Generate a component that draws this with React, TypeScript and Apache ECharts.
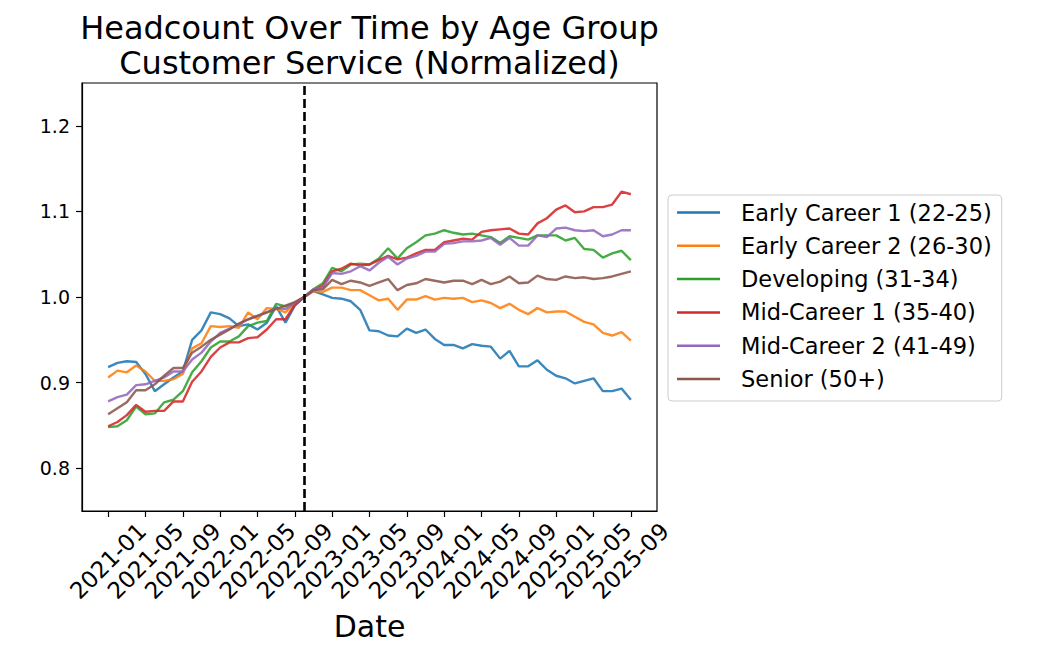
import React, { useEffect, useRef } from "react";
import * as echarts from "echarts";

// Monthly dates 2021-01 .. 2025-09
const months: string[] = (() => {
  const out: string[] = [];
  for (let y = 2021; y <= 2025; y++) {
    for (let m = 1; m <= 12; m++) {
      if (y === 2025 && m > 9) break;
      out.push(`${y}-${String(m).padStart(2, "0")}`);
    }
  }
  return out;
})();

const tickLabels = [
  "2021-01", "2021-05", "2021-09", "2022-01", "2022-05", "2022-09", "2023-01",
  "2023-05", "2023-09", "2024-01", "2024-05", "2024-09", "2025-01", "2025-05", "2025-09",
];
const yTicks = [0.8, 0.9, 1.0, 1.1, 1.2];
const normalizationMonth = "2022-10";

const seriesNames = [
  "Early Career 1 (22-25)",
  "Early Career 2 (26-30)",
  "Developing (31-34)",
  "Mid-Career 1 (35-40)",
  "Mid-Career 2 (41-49)",
  "Senior (50+)",
];

const earlyCareer1 = [
  0.918, 0.923, 0.925, 0.924, 0.910, 0.890, 0.898, 0.906, 0.913, 0.950,
  0.961, 0.982, 0.980, 0.975, 0.966, 0.968, 0.962, 0.970, 0.989, 0.970,
  0.990, 1.000, 1.007, 1.003, 0.999, 0.998, 0.995, 0.985, 0.961, 0.960,
  0.955, 0.954, 0.963, 0.958, 0.962, 0.951, 0.944, 0.944, 0.940, 0.945,
  0.943, 0.942, 0.928, 0.937, 0.919, 0.919, 0.926, 0.915, 0.908, 0.905,
  0.899, 0.902, 0.905, 0.890, 0.890, 0.893, 0.880,
];
const earlyCareer2 = [
  0.906, 0.914, 0.912, 0.920, 0.913, 0.902, 0.902, 0.904, 0.910, 0.940,
  0.946, 0.966, 0.965, 0.966, 0.964, 0.982, 0.974, 0.987, 0.986, 0.982,
  0.993, 1.000, 1.007, 1.006, 1.011, 1.011, 1.008, 1.008, 1.002, 0.996,
  0.998, 0.985, 0.997, 0.997, 1.001, 0.997, 0.999, 0.998, 0.999, 0.994,
  0.996, 0.993, 0.987, 0.992, 0.985, 0.980, 0.987, 0.982, 0.983, 0.983,
  0.977, 0.971, 0.968, 0.958, 0.955, 0.959, 0.949,
];
const developing = [
  0.848, 0.849, 0.856, 0.872, 0.863, 0.864, 0.877, 0.880, 0.890, 0.912,
  0.925, 0.941, 0.948, 0.948, 0.954, 0.966, 0.970, 0.972, 0.992, 0.989,
  0.993, 1.000, 1.009, 1.016, 1.034, 1.030, 1.038, 1.039, 1.038, 1.045,
  1.057, 1.045, 1.057, 1.064, 1.072, 1.074, 1.078, 1.075, 1.073, 1.074,
  1.072, 1.070, 1.063, 1.071, 1.069, 1.067, 1.072, 1.072, 1.072, 1.066,
  1.069, 1.056, 1.055, 1.046, 1.051, 1.054, 1.043,
];
const midCareer1 = [
  0.849, 0.854, 0.862, 0.874, 0.866, 0.867, 0.867, 0.878, 0.878, 0.901,
  0.913, 0.930, 0.941, 0.947, 0.947, 0.952, 0.953, 0.962, 0.974, 0.974,
  0.991, 1.000, 1.008, 1.013, 1.030, 1.033, 1.039, 1.037, 1.038, 1.043,
  1.048, 1.044, 1.046, 1.051, 1.055, 1.055, 1.064, 1.066, 1.068, 1.067,
  1.076, 1.078, 1.079, 1.080, 1.074, 1.073, 1.086, 1.092, 1.102, 1.107,
  1.099, 1.100, 1.105, 1.105, 1.108, 1.123, 1.120,
];
const midCareer2 = [
  0.878, 0.883, 0.886, 0.897, 0.898, 0.902, 0.906, 0.913, 0.913, 0.927,
  0.935, 0.948, 0.958, 0.963, 0.968, 0.974, 0.978, 0.982, 0.987, 0.986,
  0.993, 1.000, 1.009, 1.011, 1.028, 1.027, 1.030, 1.036, 1.031, 1.040,
  1.047, 1.038, 1.045, 1.048, 1.053, 1.053, 1.062, 1.063, 1.065, 1.065,
  1.066, 1.069, 1.061, 1.069, 1.060, 1.060, 1.072, 1.070, 1.080, 1.081,
  1.078, 1.077, 1.078, 1.071, 1.073, 1.078, 1.078,
];
const senior = [
  0.863, 0.870, 0.877, 0.891, 0.891, 0.898, 0.908, 0.917, 0.917, 0.935,
  0.942, 0.950, 0.956, 0.962, 0.969, 0.974, 0.978, 0.982, 0.986, 0.990,
  0.994, 1.000, 1.008, 1.009, 1.020, 1.015, 1.019, 1.017, 1.013, 1.017,
  1.021, 1.008, 1.014, 1.016, 1.021, 1.019, 1.017, 1.019, 1.019, 1.015,
  1.020, 1.015, 1.018, 1.024, 1.016, 1.017, 1.025, 1.021, 1.020, 1.024,
  1.022, 1.023, 1.021, 1.022, 1.024, 1.027, 1.030,
];

const seriesValues = [earlyCareer1, earlyCareer2, developing, midCareer1, midCareer2, senior];
const colors = ["#1f77b4", "#ff7f0e", "#2ca02c", "#d62728", "#9467bd", "#8c564b"];

const FONT = "DejaVu Sans";

export default function App() {
  const ref = useRef<HTMLDivElement>(null);

  useEffect(() => {
    document.body.style.margin = "0";
    if (!ref.current) return;
    const chart = echarts.init(ref.current, undefined, { renderer: "svg" });
    const tickPos = tickLabels.map((l) => months.indexOf(l));
    const normIdx = months.indexOf(normalizationMonth);
    const pad = (months.length - 1) * 0.05;

    const option: any = {
      animation: false,
      backgroundColor: "#ffffff",
      color: colors,
      textStyle: { fontFamily: FONT },
      graphic: [
        {
          type: "text",
          x: 369.5,
          y: 10,
          style: {
            text: "Headcount Over Time by Age Group\nCustomer Service (Normalized)",
            fontSize: 32,
            fontFamily: FONT,
            fill: "#000",
            textAlign: "center",
            align: "center",
            textVerticalAlign: "top",
            verticalAlign: "top",
            lineHeight: 35,
          },
        },
      ],
      grid: {
        left: 82,
        top: 83,
        width: 575,
        height: 428,
        show: true,
        borderColor: "#000",
        borderWidth: 1.2,
        backgroundColor: "transparent",
        outerBoundsMode: "none",
        containLabel: false,
      },
      xAxis: {
        type: "value",
        min: -pad,
        max: months.length - 1 + pad,
        axisLine: { show: true, onZero: false, lineStyle: { color: "#000", width: 1.2 } },
        axisTick: { show: true, customValues: tickPos, length: 6, lineStyle: { color: "#000", width: 1.2 } },
        axisLabel: {
          customValues: tickPos,
          formatter: (v: number) => months[Math.round(v)],
          rotate: 45,
          align: "center",
          verticalAlign: "middle",
          margin: 50,
          fontSize: 23,
          color: "#000",
          fontFamily: FONT,
        },
        splitLine: { show: false },
        name: "Date",
        nameLocation: "middle",
        nameGap: 100,
        nameTextStyle: { fontSize: 30, color: "#000", fontFamily: FONT },
      },
      yAxis: {
        type: "value",
        min: 0.75,
        max: 1.25,
        axisLine: { show: true, onZero: false, lineStyle: { color: "#000", width: 1.2 } },
        axisTick: { show: true, customValues: yTicks, length: 6, lineStyle: { color: "#000", width: 1.2 } },
        axisLabel: {
          customValues: yTicks,
          formatter: (v: number) => v.toFixed(1),
          margin: 12,
          fontSize: 19,
          color: "#000",
          fontFamily: FONT,
        },
        splitLine: { show: false },
      },
      legend: {
        orient: "vertical",
        left: 668,
        top: 195,
        padding: [2.5, 10, 7, 9],
        itemGap: 3.3,
        itemWidth: 43,
        itemHeight: 2.5,
        icon: "rect",
        borderColor: "#cccccc",
        borderWidth: 1,
        borderRadius: 4,
        backgroundColor: "rgba(255,255,255,0.8)",
        data: seriesNames,
        textStyle: {
          fontSize: 22.5,
          lineHeight: 30,
          color: "#000",
          fontFamily: FONT,
          padding: [0, 0, 0, 16],
        },
      },
      series: seriesNames.map((name, si) => ({
        name,
        type: "line",
        showSymbol: false,
        symbol: "none",
        lineStyle: { width: 2.4, opacity: 0.88 },
        data: seriesValues[si].map((v, i) => [i, v]),
        markLine:
          si === 0
            ? {
                silent: true,
                symbol: ["none", "none"],
                label: { show: false },
                lineStyle: { color: "#000", type: [9, 4], width: 2.6, opacity: 1 },
                data: [{ xAxis: normIdx }],
              }
            : undefined,
      })),
    };

    chart.setOption(option);
    return () => chart.dispose();
  }, []);

  return (
    <div
      ref={ref}
      style={{ position: "absolute", left: 0, top: 0, width: 1052, height: 664 }}
    />
  );
}
